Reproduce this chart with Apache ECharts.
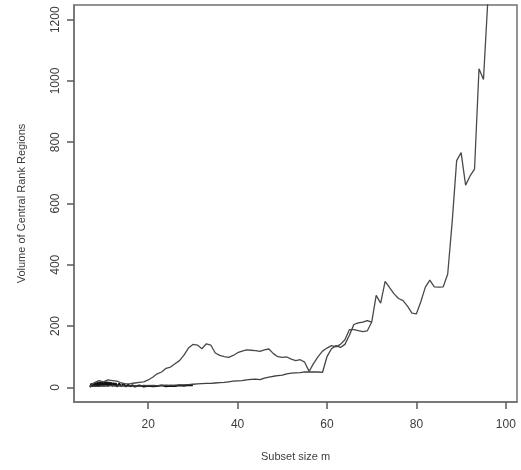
<!DOCTYPE html>
<html>
<head>
<meta charset="utf-8">
<script src="https://cdn.jsdelivr.net/npm/echarts@6/dist/echarts.min.js"></script>
<style>
  html, body { margin: 0; padding: 0; background: #ffffff; }
  #chart { width: 521px; height: 470px; }
</style>
</head>
<body>
<div id="chart"></div>
<script>
// Subset sizes and volumes of the central rank regions, two runs
const subsetA = [7,8,9,10,11,12,13,14,15,16,17,18,19,20,21,22,23,24,25,26,27,28,29,30,31,32,33,34,35,36,37,38,39,40,41,42,43,44,45,46,47,48,49,50,51,52,53,54,55,56,57,58,59,60,61,62,63,64,65,66,67,68,69,70,71,72,73,74,75,76,77,78,79,80,81,82,83,84,85,86,87,88,89,90,91,92,93,94,95,96,97,98];
const volumeA = [5,15,22,18,24,22,20,14,11,12,14,16,18,24,33,44,50,62,66,77,87,105,128,140,138,126,142,138,112,104,100,98,104,113,118,122,121,120,117,122,125,110,100,98,99,92,87,90,82,52,78,100,118,128,136,132,140,155,188,188,185,182,184,213,300,275,346,325,305,290,283,265,242,240,280,327,350,328,327,328,370,540,740,766,660,690,712,1040,1005,1270,1480,1700];

const subsetB = [7,8,9,10,11,12,13,14,15,16,17,18,19,20,21,22,23,24,25,26,27,28,29,30,31,32,33,34,35,36,37,38,39,40,41,42,43,44,45,46,47,48,49,50,51,52,53,54,55,56,57,58,59,60,61,62,63,64,65,66,67,68,69,70];
const volumeB = [2,4,3,5,4,6,4,5,3,4,5,4,6,5,6,5,6,7,6,7,8,8,9,10,11,12,13,13,14,15,16,18,20,21,22,24,26,27,25,30,33,36,38,40,44,46,47,48,50,50,50,50,49,100,126,136,130,140,170,205,210,213,218,213];

// Early, small subsets: a third run that jitters near zero
const subsetC = [7,7.25,7.5,7.75,8,8.25,8.5,8.75,9,9.25,9.5,9.75,10,10.25,10.5,10.75,11,11.25,11.5,11.75,12,12.25,12.5,12.75,13,13.5,14,14.5,15,15.5,16,16.5,17,18,19,20,21,22,23,24,25,26,27,28,29,30];
const volumeC = [0,12,2,14,3,16,4,17,2,18,5,17,3,19,6,18,4,17,5,16,3,15,4,14,2,12,4,11,2,9,3,7,2,6,2,5,3,4,6,3,5,4,6,5,7,6];

const xTicks = [20, 40, 60, 80, 100];
const yTicks = [0, 200, 400, 600, 800, 1000, 1200];

const pairs = (xs, ys) => xs.map((x, i) => [x, ys[i]]);

const chart = echarts.init(document.getElementById('chart'));

const tickColor = '#5a5a5a';
const textColor = '#3c3c3c';
const font = '"Liberation Sans", Arial, sans-serif';

const lineSeries = (name, xs, ys, color, width) => ({
  name: name,
  type: 'line',
  data: pairs(xs, ys),
  showSymbol: false,
  symbol: 'none',
  lineStyle: { color: color, width: width },
  emphasis: { disabled: true }
});

chart.setOption({
  animation: false,
  backgroundColor: '#ffffff',
  grid: {
    left: 74, right: 4, top: 5, bottom: 68,
    show: true,
    borderColor: '#707070',
    borderWidth: 1.5
  },
  xAxis: {
    type: 'value',
    min: 3.4,
    max: 102.5,
    name: 'Subset size m',
    nameLocation: 'middle',
    nameGap: 49,
    nameMoveOverlap: false,
    nameTextStyle: { color: textColor, fontSize: 11, fontFamily: font },
    axisLine: { show: true, onZero: false, lineStyle: { color: '#707070', width: 1.5 } },
    splitLine: { show: false },
    axisTick: {
      show: true, length: 7,
      customValues: xTicks,
      lineStyle: { color: tickColor, width: 1.5 }
    },
    axisLabel: {
      margin: 17,
      customValues: xTicks,
      formatter: v => String(v),
      color: textColor, fontSize: 12, fontFamily: font
    }
  },
  yAxis: {
    type: 'value',
    min: -48,
    max: 1248,
    name: 'Volume of Central Rank Regions',
    nameLocation: 'middle',
    nameGap: 47,
    nameMoveOverlap: false,
    nameRotate: 90,
    nameTextStyle: { color: textColor, fontSize: 11, fontFamily: font },
    axisLine: { show: true, onZero: false, lineStyle: { color: '#707070', width: 1.5 } },
    splitLine: { show: false },
    axisTick: {
      show: true, length: 7,
      customValues: yTicks,
      lineStyle: { color: tickColor, width: 1.5 }
    },
    axisLabel: {
      margin: 12, rotate: 90,
      customValues: yTicks,
      formatter: v => String(v),
      color: textColor, fontSize: 12, fontFamily: font
    }
  },
  series: [
    lineSeries('run C', subsetC, volumeC, '#111111', 1.8),
    lineSeries('run B', subsetB, volumeB, '#404040', 1.3),
    lineSeries('run A', subsetA, volumeA, '#4a4a4a', 1.3)
  ]
});
</script>
</body>
</html>
